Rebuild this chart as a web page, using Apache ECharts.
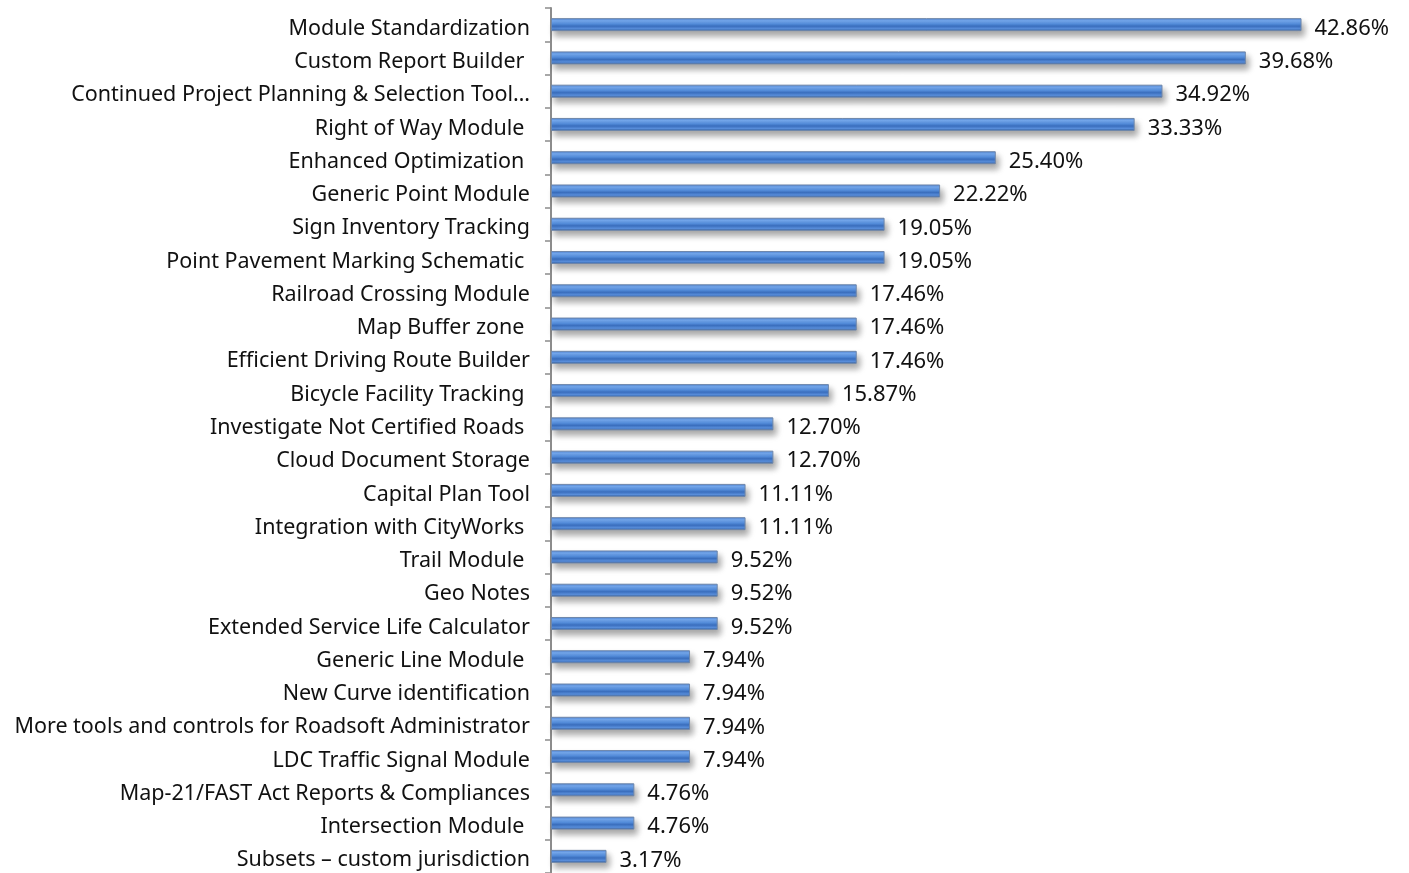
<!DOCTYPE html>
<html><head><meta charset="utf-8">
<script src="https://cdn.jsdelivr.net/npm/echarts@6/dist/echarts.min.js"></script>
<style>html,body{margin:0;padding:0;background:#fff}#c{width:1409px;height:873px}</style>
</head><body><div id="c"></div>
<script>
const categories = [
  "Module Standardization",
  "Custom Report Builder ",
  "Continued Project Planning & Selection Tool\u2026",
  "Right of Way Module ",
  "Enhanced Optimization ",
  "Generic Point Module",
  "Sign Inventory Tracking",
  "Point Pavement Marking Schematic ",
  "Railroad Crossing Module",
  "Map Buffer zone ",
  "Efficient Driving Route Builder",
  "Bicycle Facility Tracking ",
  "Investigate Not Certified Roads ",
  "Cloud Document Storage",
  "Capital Plan Tool",
  "Integration with CityWorks ",
  "Trail Module ",
  "Geo Notes",
  "Extended Service Life Calculator",
  "Generic Line Module ",
  "New Curve identification",
  "More tools and controls for Roadsoft Administrator",
  "LDC Traffic Signal Module",
  "Map-21/FAST Act Reports & Compliances",
  "Intersection Module ",
  "Subsets \u2013 custom jurisdiction"
];
const values = [42.86, 39.68, 34.92, 33.33, 25.40, 22.22, 19.05, 19.05, 17.46, 17.46, 17.46, 15.87, 12.70, 12.70, 11.11, 11.11, 9.52, 9.52, 9.52, 7.94, 7.94, 7.94, 7.94, 4.76, 4.76, 3.17];

const chart = echarts.init(document.getElementById('c'), null, {renderer: 'canvas'});
const font = "'Noto Sans', sans-serif";
chart.setOption({
  animation: false,
  grid: {left: 551, right: 70, top: 8, height: 867, containLabel: false},
  xAxis: {type: 'value', min: 0, max: 45, show: false},
  yAxis: {
    type: 'category', data: categories, inverse: true,
    axisLine: {show: true, lineStyle: {color: '#8c8c8c', width: 2}},
    axisTick: {show: true, length: 6, lineStyle: {color: '#8c8c8c', width: 1.5}},
    axisLabel: {color: '#111', fontSize: 21.5, fontFamily: font, margin: 21, verticalAlign: 'top', lineHeight: 8}
  },
  series: [{
    type: 'bar', data: values, barWidth: 13,
    itemStyle: {
      color: new echarts.graphic.LinearGradient(0, 0, 0, 1, [
        {offset: 0, color: '#4a80d2'},
        {offset: 0.2, color: '#76aaf0'},
        {offset: 0.45, color: '#5691e2'},
        {offset: 0.62, color: '#3c72c4'},
        {offset: 0.82, color: '#5a90de'},
        {offset: 1, color: '#2b5799'}
      ]),
      borderColor: '#6f87aa', borderWidth: 1,
      shadowColor: 'rgba(0,0,0,0.35)', shadowBlur: 6, shadowOffsetX: 3, shadowOffsetY: 5
    },
    label: {
      show: true, position: 'right', distance: 13,
      color: '#111', fontSize: 22, fontFamily: font, verticalAlign: 'top', lineHeight: 8,
      formatter: p => p.value.toFixed(2) + '%'
    }
  }]
});
</script></body></html>
